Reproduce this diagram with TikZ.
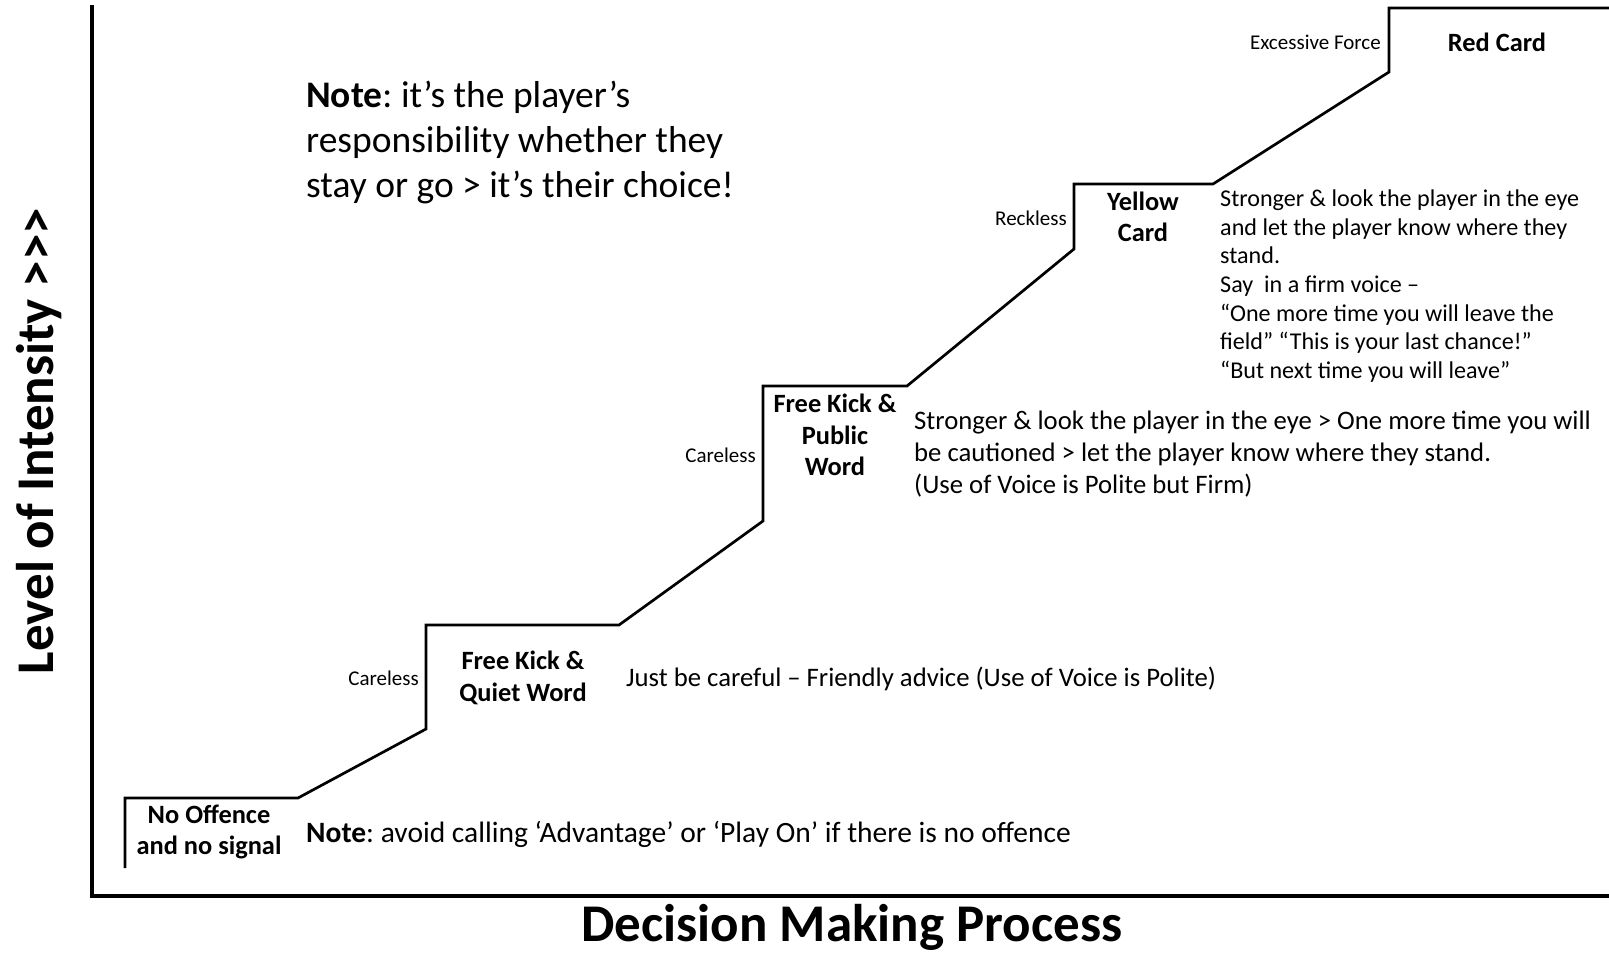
\documentclass[tikz,border=0pt]{standalone}
\usepackage{fontspec}
\setmainfont{Carlito}
\usetikzlibrary{positioning}
\frenchspacing
\tikzset{
  stair/.style={line width=2.7pt, line join=miter},
  axis/.style={line width=3.4pt},
  lvl/.style={font=\bfseries\fontsize{26.4}{31.5}\selectfont, align=center, inner sep=0pt},
  why/.style={font=\fontsize{21}{24}\selectfont, anchor=east, inner sep=0pt},
  say/.style={font=\fontsize{26.7}{32.3}\selectfont, align=left, anchor=west, inner sep=0pt},
  big/.style={font=\fontsize{37.5}{45}\selectfont},
  ttl/.style={font=\bfseries\fontsize{53}{60}\selectfont, inner sep=0pt}
}

\begin{document}
\begin{tikzpicture}[x=1pt, y=-1pt]
    \useasboundingbox (0,0) rectangle (1609,953);

    % axes
    \draw[axis] (92,5) |- (1609,896);

    % the staircase
    \coordinate (r0) at (125,868);
    \coordinate (r1) at (426,729);
    \coordinate (r2) at (763,521);
    \coordinate (r3) at (1074,249);
    \coordinate (r4) at (1389,72);
    \draw[stair] (r0) |- (298,798) -- (r1) |- (619,625) -- (r2)
                 |- (907,386) -- (r3) |- (1213,184) -- (r4) |- (1609,8);

    % levels
    \node[lvl] (none) at (209,832) {No Offence\\and no signal};
    \node[lvl] (quiet) at (523,678) {Free Kick \&\\Quiet Word};
    \node[lvl] (public) at (835,435) {Free Kick \&\\Public\\Word};
    \node[lvl] (yellow) at (1143,217) {Yellow\\Card};
    \node[lvl] (red) at (1497,42) {Red Card};

    \node[why] (care1) at (419,678) {Careless};
    \node[why] (care2) at (756,455) {Careless};
    \node[why] (reck) at (1067,218) {Reckless};
    \node[why] (force) at (1381,42) {Excessive Force};

    \node[say] (tip1) at (626,679) {Just be careful – Friendly advice (Use of Voice is Polite)};
    \node[say] (tip2) at (914,454)
         {Stronger \& look the player in the eye > One more time you will\\
          be cautioned > let the player know where they stand.\\
          (Use of Voice is Polite but Firm)};
    \node[say, font=\fontsize{24.1}{28.7}\selectfont] (tip3) at (1220,286)
         {Stronger \& look the player in the eye\\
          and let the player know where they\\
          stand.\\
          Say\ \ in a firm voice –\\
          “One more time you will leave the\\
          field” “This is your last chance!”\\
          “But next time you will leave”};

    \node[say, big] (note1) at (306,143)
         {\textbf{Note}: it’s the player’s\\
          responsibility whether they\\
          stay or go > it’s their choice!};
    \node[say, font=\fontsize{29.5}{34}\selectfont] (note2) at (306,834)
         {\textbf{Note}: avoid calling ‘Advantage’ or ‘Play On’ if there is no offence};

    % axis titles
    \node[ttl] (xlab) at (852,927) {Decision Making Process};
    \node[ttl, rotate=90] (ylab) at (39,441)
         {Level of Intensity >{}>{}>};
\end{tikzpicture}
\end{document}
